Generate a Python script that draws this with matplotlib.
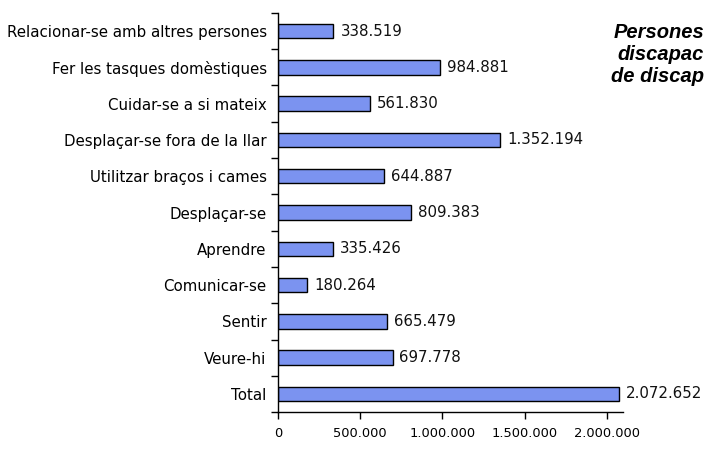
import matplotlib
matplotlib.use("Agg")
import matplotlib.pyplot as plt
import numpy as np

categories = ["Relacionar-se amb altres persones", "Fer les tasques domèstiques",
              "Cuidar-se a si mateix", "Desplaçar-se fora de la llar",
              "Utilitzar braços i cames", "Desplaçar-se", "Aprendre",
              "Comunicar-se", "Sentir", "Veure-hi", "Total"]
values = [338519, 984881, 561830, 1352194, 644887, 809383, 335426,
          180264, 665479, 697778, 2072652]
xticks = [0, 500000, 1000000, 1500000, 2000000]
xtick_labels = ["0", "500.000", "1.000.000", "1.500.000", "2.000.000"]
title_lines = ["Persones", "discapac", "de discap"]

def fmt(v):
    return f"{v:,}".replace(",", ".")

plt.rcParams['font.family'] = ['DejaVu Sans']
fig = plt.figure(figsize=(7.05, 4.61), dpi=100)
ax = fig.add_axes([0.394, 0.106, 0.490, 0.866])

n = len(categories)
ypos = np.arange(n)[::-1]
ax.barh(ypos, values, height=0.4, color="#7b93f0", edgecolor="black", linewidth=1.0)
for y, v in zip(ypos, values):
    ax.annotate(fmt(v), (v, y), xytext=(5, 0), textcoords="offset points",
                va="center", ha="left", fontsize=10.8, color="#111111")

ax.set_ylim(-0.5, n - 0.5)
ax.set_xlim(0, 2100000)
ax.set_yticks(ypos)
ax.set_yticklabels(categories, fontsize=10.8)
ax.tick_params(axis="y", length=0, pad=8)
ax.set_yticks(np.arange(-0.5, n, 1.0), minor=True)
ax.tick_params(axis="y", which="minor", length=5, width=1, direction="out")
ax.set_xticks(xticks)
ax.set_xticklabels(xtick_labels, fontsize=9.4)
ax.tick_params(axis="x", length=5, width=1, direction="out", pad=6)
for s in ["top", "right"]:
    ax.spines[s].set_visible(False)
for s in ["left", "bottom"]:
    ax.spines[s].set_linewidth(1.0)

for i, line in enumerate(title_lines):
    fig.text(0.999, 1 - (32 + 22 * i) / 461, line, ha="right", va="center",
             fontsize=14.5, fontweight="bold", fontstyle="italic",
             family=["Liberation Sans", "DejaVu Sans"])

fig.savefig("out.png", dpi=100)
